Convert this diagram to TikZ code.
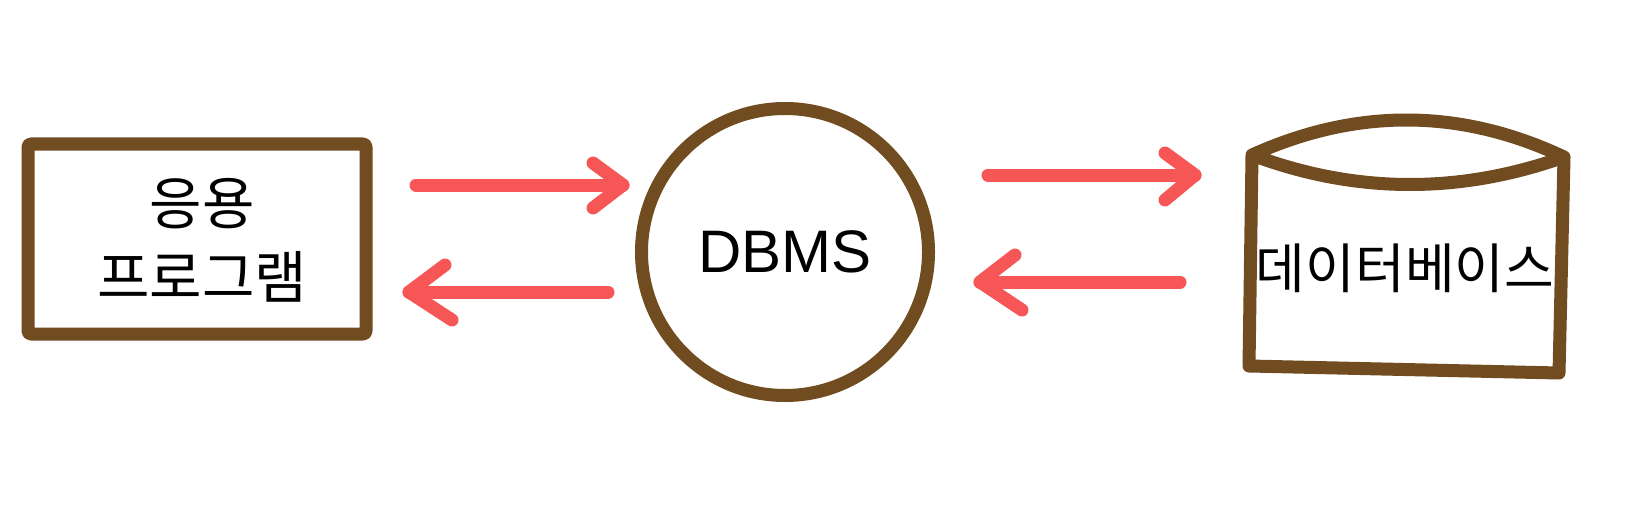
\documentclass[tikz,border=0pt]{standalone}
\usepackage{fontspec}
\setmainfont{Liberation Sans}
\newfontfamily\kor{Noto Sans CJK KR}
\definecolor{brn}{HTML}{704C20}
\definecolor{arr}{HTML}{F65656}
\begin{document}
\begin{tikzpicture}[x=1pt,y=-1pt,
  shapeline/.style={draw=brn,line width=13pt,line join=round,line cap=round},
  arrline/.style={draw=arr,line width=13pt,line cap=round,line join=round},
  kortext/.style={font=\kor\fontsize{57}{74}\selectfont,align=center,inner sep=0pt}]
\useasboundingbox[fill=white] (0,0) rectangle (1635,508);
% application box
\node[shapeline,rounded corners=3pt,minimum width=338pt,minimum height=190pt,inner sep=0pt] (app) at (197,239) {};
\node[kortext] (apptxt) at (202,240) {응용\\프로그램};
% DBMS circle
\node[shapeline,circle,minimum size=287pt,inner sep=0pt,
      font=\fontsize{60}{72}\selectfont] (dbms) at (785,252) {DBMS};
% database shape
\coordinate (tl) at (1252,155);
\coordinate (tr) at (1564,157);
\coordinate (bl) at (1249,366);
\coordinate (br) at (1559,373);
\draw[shapeline] (tl) -- (bl) -- (br) -- (tr)
  .. controls (1460,108) and (1356,108) .. (tl)
  .. controls (1356,194) and (1460,194) .. (tr);
\node[kortext,font=\kor\fontsize{54}{66}\selectfont] (db) at (1405,268) {데이터베이스};
% arrows
\coordinate (a1s) at (416,185); \coordinate (a1t) at (623,185);
\coordinate (a1u) at (593,163); \coordinate (a1d) at (593,208);
\draw[arrline] (a1s) -- (a1t);
\draw[arrline] (a1u) -- (a1t) -- (a1d);
\coordinate (a2s) at (608,292); \coordinate (a2t) at (409,292);
\coordinate (a2u) at (445,265); \coordinate (a2d) at (452,320);
\draw[arrline] (a2s) -- (a2t);
\draw[arrline] (a2u) -- (a2t) -- (a2d);
\coordinate (a3s) at (988,175); \coordinate (a3t) at (1195,175);
\coordinate (a3u) at (1165,153); \coordinate (a3d) at (1165,200);
\draw[arrline] (a3s) -- (a3t);
\draw[arrline] (a3u) -- (a3t) -- (a3d);
\coordinate (a4s) at (1180,282); \coordinate (a4t) at (980,282);
\coordinate (a4u) at (1015,255); \coordinate (a4d) at (1022,310);
\draw[arrline] (a4s) -- (a4t);
\draw[arrline] (a4u) -- (a4t) -- (a4d);
\end{tikzpicture}
\end{document}
